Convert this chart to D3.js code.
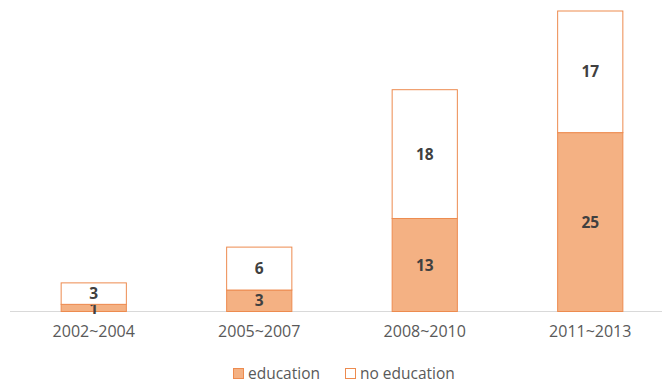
<!DOCTYPE html>
<html>
<head>
<meta charset="utf-8">
<script src="https://cdn.jsdelivr.net/npm/d3@7"></script>
<style>
  html, body { margin: 0; padding: 0; background: #fff; }
  svg { display: block; font-family: "Open Sans", "DejaVu Sans", sans-serif; }
</style>
</head>
<body>
<svg id="chart" width="662" height="383"></svg>
<script>
const periods = ["2002~2004", "2005~2007", "2008~2010", "2011~2013"];
const education = [1, 3, 13, 25];
const noEducation = [3, 6, 18, 17];
const seriesNames = ["education", "no education"];

const svg = d3.select("#chart");
const baseY = 311.5;
const topY = 11;

const x = d3.scaleBand()
  .domain(periods)
  .range([11, 673])
  .paddingInner(0.6)
  .paddingOuter(0.3);

const y = d3.scaleLinear()
  .domain([0, 42])
  .range([baseY, topY]);

const rows = periods.map((p, i) => ({ period: p, education: education[i], "no education": noEducation[i] }));
const stacked = d3.stack().keys(seriesNames)(rows);

const fills = { "education": "#f4b183", "no education": "#ffffff" };
const stroke = "#ed8b4f";

// axis baseline
svg.append("line")
  .attr("x1", 10).attr("x2", 662)
  .attr("y1", baseY).attr("y2", baseY)
  .attr("stroke", "#d9d9d9").attr("stroke-width", 1);

// stacked bars
const layer = svg.selectAll("g.layer")
  .data(stacked)
  .join("g")
  .attr("class", "layer");

layer.selectAll("rect")
  .data(d => d.map(v => ({ key: d.key, v })))
  .join("rect")
  .attr("x", d => x(d.v.data.period) + 0.5)
  .attr("width", x.bandwidth() - 1)
  .attr("y", d => y(d.v[1]))
  .attr("height", d => y(d.v[0]) - y(d.v[1]))
  .attr("fill", d => fills[d.key])
  .attr("stroke", stroke)
  .attr("stroke-width", 1);

// value labels
layer.selectAll("text")
  .data(d => d.map(v => ({ key: d.key, v })))
  .join("text")
  .attr("x", d => x(d.v.data.period) + x.bandwidth() / 2)
  .attr("y", d => (y(d.v[0]) + y(d.v[1])) / 2)
  .attr("dy", "0.36em")
  .attr("text-anchor", "middle")
  .attr("font-size", 15.5)
  .attr("font-weight", "bold")
  .attr("fill", "#404040")
  .text(d => d.v.data[d.key]);

// category axis labels
const xAxis = d3.axisBottom(x).tickSize(0).tickPadding(0);
const gx = svg.append("g")
  .attr("transform", `translate(0,${baseY})`)
  .call(xAxis);
gx.select(".domain").remove();
gx.selectAll("text")
  .attr("y", 20)
  .attr("dy", "0.36em")
  .attr("font-size", 16)
  .attr("font-family", "\"Open Sans\", \"DejaVu Sans\", sans-serif")
  .attr("fill", "#595959");

// legend
const legendItems = [
  { name: seriesNames[0], x: 233 },
  { name: seriesNames[1], x: 345 }
];
const lg = svg.append("g").selectAll("g")
  .data(legendItems)
  .join("g")
  .attr("transform", d => `translate(${d.x},368)`);
lg.append("rect")
  .attr("x", 0.5).attr("y", 0.5)
  .attr("width", 10).attr("height", 10)
  .attr("fill", d => fills[d.name])
  .attr("stroke", stroke);
lg.append("text")
  .attr("x", 15)
  .attr("y", 5.5)
  .attr("dy", "0.34em")
  .attr("font-size", 15.5)
  .attr("fill", "#595959")
  .text(d => d.name);
</script>
</body>
</html>
